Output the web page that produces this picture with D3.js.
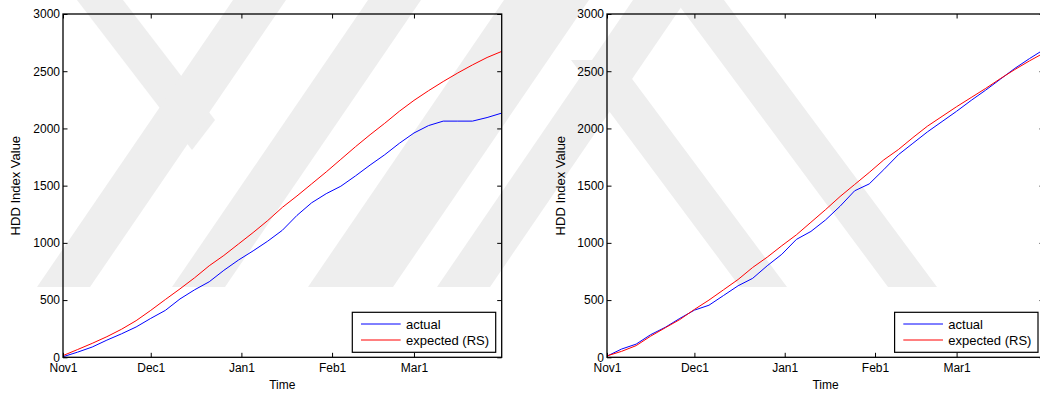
<!DOCTYPE html>
<html lang="en">
<head>
<meta charset="UTF-8">
<title>HDD Index Value - actual vs expected</title>
<script src="https://cdn.jsdelivr.net/npm/d3@7/dist/d3.min.js"></script>
<style>
body{
	margin:0;
	background:#fff;
}
svg{
	display:block;
	font-family:Arial, "Liberation Sans", Helvetica, sans-serif;
}
.tick text{
	font-size:12px;
	fill:#000;
}
.tick line{
	stroke:#000;
}
.axis-label{
	font-size:12px;
	fill:#000;
}
.legend text{
	font-size:13px;
	fill:#000;
}
</style>
</head>
<body>
<svg id="chart" width="1040" height="394"></svg>
<script>
// days since Nov 1 (Nov1 .. Mar31)
var days = [0,5,10,15,20,25,30,35,40,45,50,55,60,65,70,75,80,85,90,95,100,105,110,115,120,125,130,135,140,145,150];

var actualLeft   = [5,45,90,150,205,265,340,410,510,590,660,760,850,930,1015,1110,1240,1350,1430,1495,1585,1680,1770,1870,1960,2025,2064,2064,2064,2095,2134];
var expectedLeft = [15,68,122,180,245,320,410,505,598,695,800,890,990,1090,1195,1310,1410,1515,1620,1730,1840,1945,2045,2150,2245,2330,2410,2485,2555,2620,2673];

var actualRight   = [10,72,115,198,262,340,412,455,540,625,690,800,900,1030,1100,1200,1320,1455,1515,1640,1770,1870,1970,2060,2150,2245,2335,2430,2525,2610,2690];
var expectedRight = [12,52,102,185,258,330,418,500,590,680,785,875,975,1070,1180,1290,1405,1510,1615,1725,1815,1920,2020,2105,2190,2270,2350,2435,2515,2590,2660];

var yTicks = [0,500,1000,1500,2000,2500,3000];
var tickDays = [0,30,61,92,120];
var tickLabels = ["Nov1","Dec1","Jan1","Feb1","Mar1"];
var seriesNames = ["actual","expected (RS)"];
var seriesColors = ["#0000ff","#ff0000"];

function drawChart(){
	var svg = d3.select("#chart");

	// faint background watermark stripes
	var marks = [
		[[77,0],[123,0],[215,120],[192,150]],
		[[37,287],[90,287],[286,0],[233,0]],
		[[172,287],[225,287],[421,0],[368,0]],
		[[308,287],[393,287],[589,0],[504,0]],
		[[437,287],[490,287],[686,0],[633,0]],
		[[571,60],[618,60],[787,287],[740,287]],
		[[675,0],[724,0],[937,287],[888,287]]
	];
	svg.append("g").attr("id","g_mark").selectAll("polygon").data(marks).enter()
		.append("polygon")
		.attr("points", function(d){ return d.map(function(p){ return p.join(","); }).join(" "); })
		.attr("fill","#eeeeee");

	var yTop = 14, yBottom = 357.3;
	var panels = [
		{left:63, right:501.7, labelX:20, a:actualLeft, e:expectedLeft},
		{left:607, right:1044, labelX:565, a:actualRight, e:expectedRight}
	];

	panels.forEach(function(p, pi){
		var x = d3.scaleLinear().domain([0,150]).range([p.left, p.right]);
		var y = d3.scaleLinear().domain([0,3000]).range([yBottom, yTop]);
		var g = svg.append("g").attr("id","panel"+pi);

		g.append("clipPath").attr("id","clip"+pi).append("rect")
			.attr("x",p.left).attr("y",yTop).attr("width",p.right-p.left).attr("height",yBottom-yTop);

		var line = d3.line()
			.x(function(d,i){ return x(days[i]); })
			.y(function(d){ return y(d); });

		var lines = g.append("g").attr("clip-path","url(#clip"+pi+")");
		lines.append("path").datum(p.a).attr("d",line)
			.attr("fill","none").attr("stroke",seriesColors[0]).attr("stroke-width",1);
		lines.append("path").datum(p.e).attr("d",line)
			.attr("fill","none").attr("stroke",seriesColors[1]).attr("stroke-width",1);

		// axes, ticks pointing inward
		var tl = 4.5;
		g.append("g").attr("transform","translate("+p.left+",0)")
			.call(d3.axisLeft(y).tickValues(yTicks).tickFormat(d3.format("d"))
				.tickSizeInner(-tl).tickSizeOuter(0).tickPadding(3))
			.call(function(s){ s.select(".domain").remove(); });
		g.append("g").attr("transform","translate("+p.right+",0)")
			.call(d3.axisRight(y).tickValues(yTicks).tickSizeInner(-tl).tickSizeOuter(0).tickFormat(""))
			.call(function(s){ s.select(".domain").remove(); });
		g.append("g").attr("transform","translate(0,"+yBottom+")")
			.call(d3.axisBottom(x).tickValues(tickDays).tickSizeInner(-tl).tickSizeOuter(0).tickPadding(6)
				.tickFormat(function(d,i){ return tickLabels[i]; }))
			.call(function(s){ s.select(".domain").remove(); });
		g.append("g").attr("transform","translate(0,"+yTop+")")
			.call(d3.axisTop(x).tickValues(tickDays).tickSizeInner(-tl).tickSizeOuter(0).tickFormat(""))
			.call(function(s){ s.select(".domain").remove(); });
		g.selectAll(".tick text").style("font-size","12px").style("font-family","Arial, 'Liberation Sans', sans-serif");

		g.append("rect")
			.attr("x",p.left).attr("y",yTop).attr("width",p.right-p.left).attr("height",yBottom-yTop)
			.attr("fill","none").attr("stroke","#000").attr("stroke-width",1.3);

		g.append("text").attr("class","axis-label")
			.attr("x",(p.left+p.right)/2).attr("y",388.5)
			.attr("text-anchor","middle").text("Time");
		g.append("text").attr("class","axis-label")
			.attr("transform","translate("+p.labelX+","+((yTop+yBottom)/2)+") rotate(-90)")
			.attr("text-anchor","middle").style("font-size","13px").text("HDD Index Value");

		// legend
		var lw = 143.4, lh = 40;
		var lg = g.append("g").attr("class","legend")
			.attr("transform","translate("+(p.right-6-lw)+","+(yBottom-5-lh)+")");
		lg.append("rect").attr("width",lw).attr("height",lh)
			.attr("fill","#fff").attr("stroke","#000").attr("stroke-width",1.2);
		var items = lg.selectAll("g").data(seriesNames).enter().append("g")
			.attr("transform",function(d,i){ return "translate(0,"+(11.7+i*16)+")"; });
		items.append("line").attr("x1",8.7).attr("x2",48.4)
			.attr("stroke",function(d,i){ return seriesColors[i]; }).attr("stroke-width",1);
		items.append("text").attr("x",53.7).attr("dy","0.35em").text(function(d){ return d; });
	});
}

drawChart();
</script>
</body>
</html>
